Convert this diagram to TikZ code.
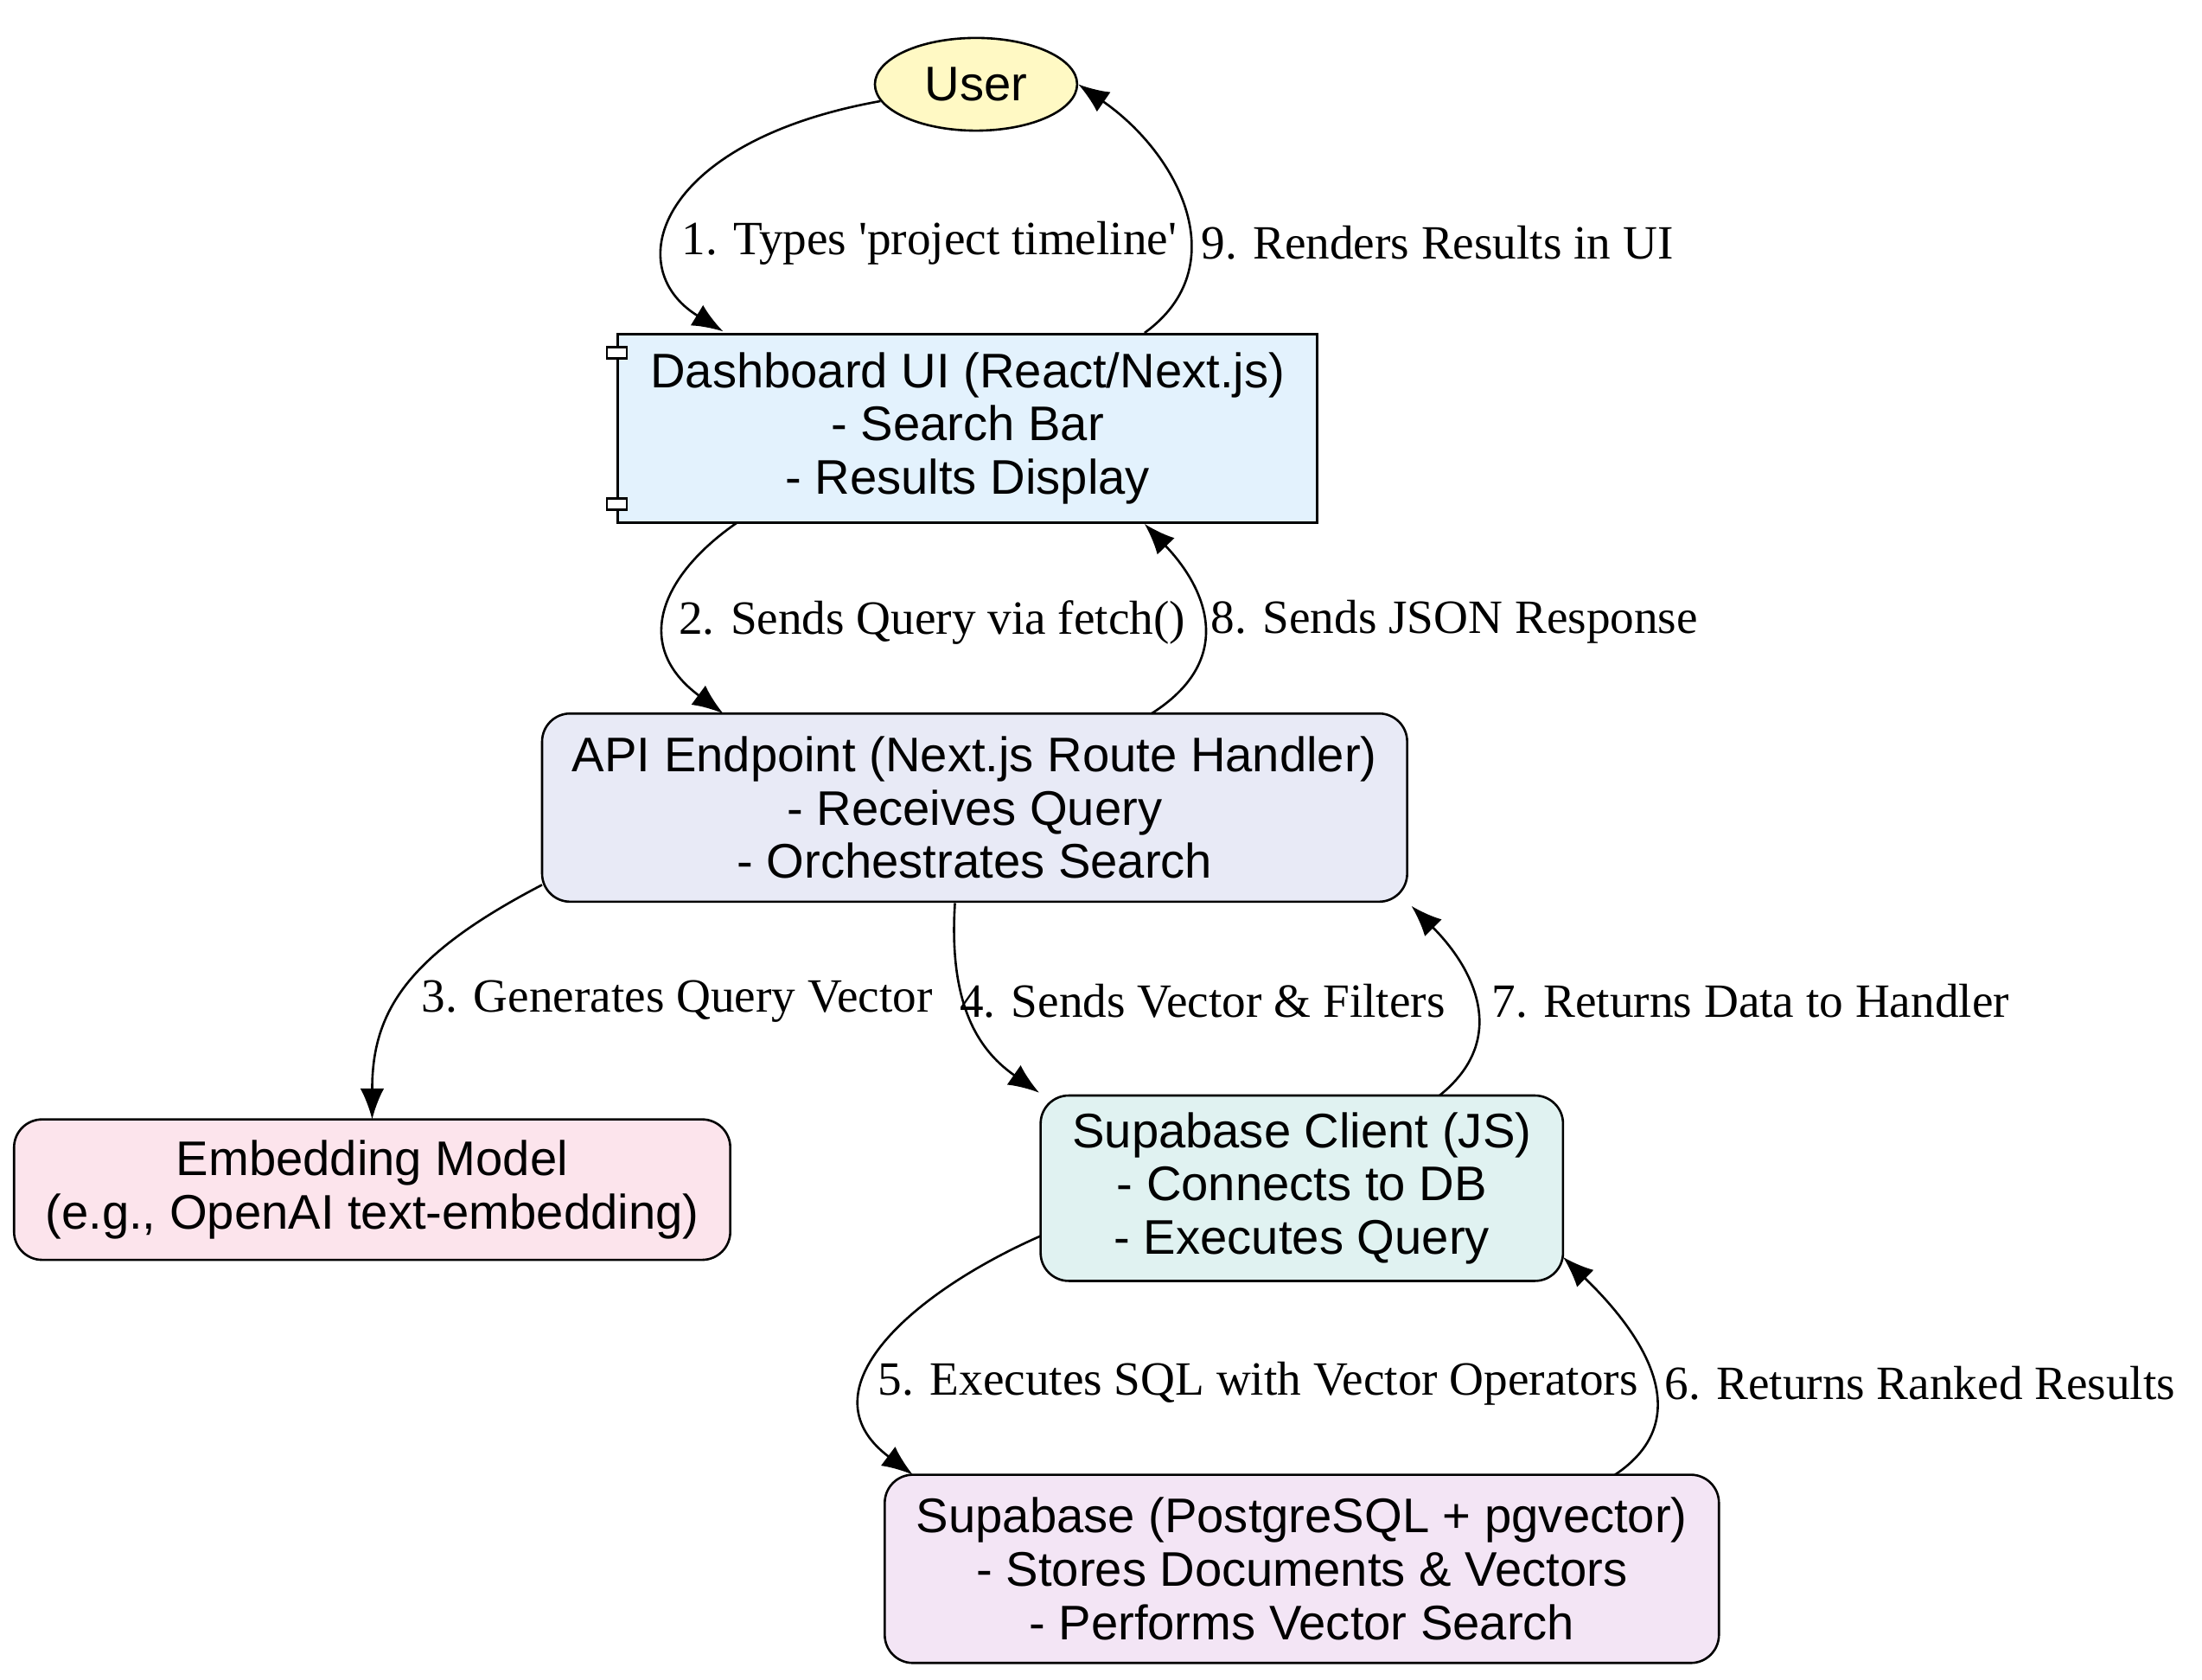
\documentclass[tikz,border=0pt]{standalone}
\usepackage{fontspec}
\setmainfont{Liberation Serif}
\newfontfamily\nodefont{Liberation Sans}
\usetikzlibrary{arrows.meta,shapes.geometric,calc}
\begin{document}
\begin{tikzpicture}[x=0.5pt,y=-0.5pt,
 box/.style={draw,thick,align=center,font=\nodefont\fontsize{17.3}{19}\selectfont,inner sep=0pt},
 rbox/.style={box,rounded corners=10pt},
 e/.style={thick,-{Latex[length=11pt,width=8.5pt]}},
 lab/.style={font=\fontsize{17}{19}\selectfont,inner sep=1pt}]
\useasboundingbox (0,0) rectangle (1568,1196);
\node[box,ellipse,fill={rgb,255:red,255;green,249;blue,196},minimum width=72pt,minimum height=33pt] (user) at (695,60) {User};
\node[box,fill={rgb,255:red,227;green,242;blue,253},minimum width=249pt,minimum height=67pt] (dash) at (689,305) {Dashboard UI (React/Next.js)\\- Search Bar\\- Results Display};
\draw[thick,fill=white] ($(dash.north west)+(-7,10)$) rectangle ($(dash.north west)+(7,18)$);
\draw[thick,fill=white] ($(dash.south west)+(-7,-10)$) rectangle ($(dash.south west)+(7,-18)$);
\node[rbox,fill={rgb,255:red,232;green,234;blue,246},minimum width=308pt,minimum height=67pt] (api) at (694,575) {API Endpoint (Next.js Route Handler)\\- Receives Query\\- Orchestrates Search};
\node[rbox,fill={rgb,255:red,252;green,228;blue,236},minimum width=255pt,minimum height=50pt] (emb) at (265,847) {Embedding Model\\(e.g., OpenAI text-embedding)};
\node[rbox,fill={rgb,255:red,224;green,242;blue,241},minimum width=186pt,minimum height=66pt] (cli) at (927,846) {Supabase Client (JS)\\- Connects to DB\\- Executes Query};
\node[rbox,fill={rgb,255:red,243;green,229;blue,245},minimum width=297pt,minimum height=67pt] (db) at (927,1117) {Supabase (PostgreSQL + pgvector)\\- Stores Documents \& Vectors\\- Performs Vector Search};

\draw[e] (user.190) .. controls (470,100) and (440,190) .. (515,236);
\node[lab,anchor=west] (l1) at (483,173) {1. Types \textquotesingle project timeline\textquotesingle};
\draw[e] (815,237) .. controls (880,190) and (840,110) .. (user.east);
\node[lab,anchor=west] (l9) at (853,173) {9. Renders Results in UI};
\draw[e] (525,372) .. controls (470,410) and (450,460) .. (515,508);
\node[lab,anchor=west] (l2) at (481,443) {2. Sends Query via fetch()};
\draw[e] (820,508) .. controls (880,470) and (860,420) .. (815,373);
\node[lab,anchor=west] (l8) at (860,443) {8. Sends JSON Response};
\draw[e] (386,630) .. controls (290,680) and (265,720) .. (265,797);
\node[lab,anchor=west] (l3) at (298,713) {3. Generates Query Vector};
\draw[e] (680,643) .. controls (675,720) and (700,750) .. (740,778);
\node[lab,anchor=west] (l4) at (681,713) {4. Sends Vector \& Filters};
\draw[e] (1025,780) .. controls (1075,740) and (1050,690) .. (1005,645);
\node[lab,anchor=west] (l7) at (1060,713) {7. Returns Data to Handler};
\draw[e] (741,880) .. controls (650,920) and (570,990) .. (650,1050);
\node[lab,anchor=west] (l5) at (623,985) {5. Executes SQL with Vector Operators};
\draw[e] (1150,1050) .. controls (1210,1010) and (1170,950) .. (1113,895);
\node[lab,anchor=west] (l6) at (1183,985) {6. Returns Ranked Results};
\end{tikzpicture}
\end{document}
